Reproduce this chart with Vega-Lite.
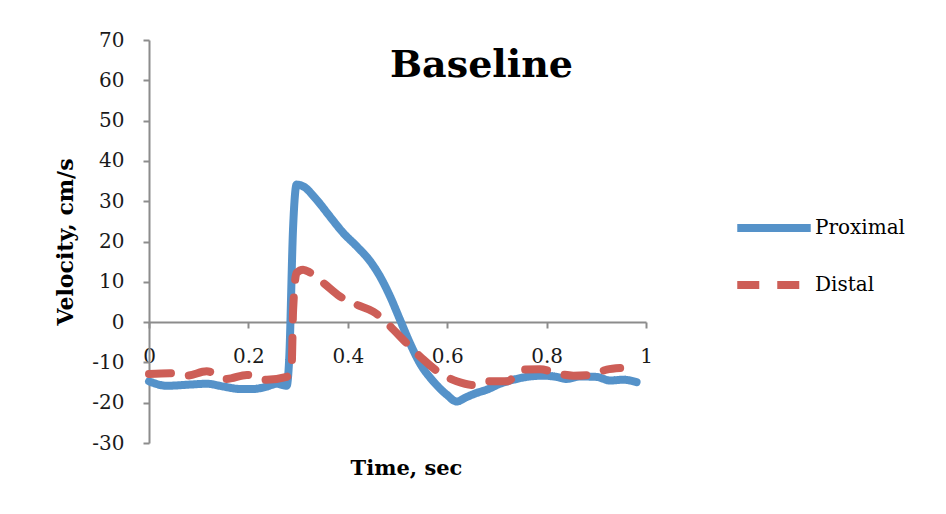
{
  "$schema": "https://vega.github.io/schema/vega-lite/v6.json",
  "width": 497,
  "height": 403,
  "autosize": {"type": "none"},
  "padding": {"left": 149, "top": 40, "right": 300, "bottom": 71},
  "background": "white",
  "config": {
    "view": {"stroke": null},
    "font": "DejaVu Serif"
  },
  "title": {
    "text": "Baseline",
    "font": "DejaVu Serif",
    "fontSize": 38,
    "fontWeight": "bold",
    "color": "#000000",
    "anchor": "middle",
    "frame": "group",
    "baseline": "alphabetic",
    "offset": -50,
    "dx": 84,
    "dy": 35
  },
  "data": {
    "values": [
      {"t": 0.0, "v": -14.7, "series": "Proximal"},
      {"t": 0.036, "v": -15.8, "series": "Proximal"},
      {"t": 0.083, "v": -15.5, "series": "Proximal"},
      {"t": 0.116, "v": -15.3, "series": "Proximal"},
      {"t": 0.15, "v": -16.0, "series": "Proximal"},
      {"t": 0.183, "v": -16.6, "series": "Proximal"},
      {"t": 0.21, "v": -16.6, "series": "Proximal"},
      {"t": 0.237, "v": -16.0, "series": "Proximal"},
      {"t": 0.257, "v": -15.3, "series": "Proximal"},
      {"t": 0.277, "v": -15.8, "series": "Proximal"},
      {"t": 0.282, "v": -9.3, "series": "Proximal"},
      {"t": 0.29, "v": 23.7, "series": "Proximal"},
      {"t": 0.297, "v": 34.1, "series": "Proximal"},
      {"t": 0.31, "v": 33.7, "series": "Proximal"},
      {"t": 0.337, "v": 30.4, "series": "Proximal"},
      {"t": 0.364, "v": 26.2, "series": "Proximal"},
      {"t": 0.391, "v": 22.1, "series": "Proximal"},
      {"t": 0.418, "v": 18.8, "series": "Proximal"},
      {"t": 0.445, "v": 15.1, "series": "Proximal"},
      {"t": 0.465, "v": 11.3, "series": "Proximal"},
      {"t": 0.485, "v": 6.4, "series": "Proximal"},
      {"t": 0.505, "v": 0.6, "series": "Proximal"},
      {"t": 0.525, "v": -5.2, "series": "Proximal"},
      {"t": 0.545, "v": -10.2, "series": "Proximal"},
      {"t": 0.572, "v": -14.7, "series": "Proximal"},
      {"t": 0.599, "v": -18.0, "series": "Proximal"},
      {"t": 0.619, "v": -19.7, "series": "Proximal"},
      {"t": 0.639, "v": -18.6, "series": "Proximal"},
      {"t": 0.659, "v": -17.6, "series": "Proximal"},
      {"t": 0.679, "v": -16.8, "series": "Proximal"},
      {"t": 0.706, "v": -15.3, "series": "Proximal"},
      {"t": 0.733, "v": -14.3, "series": "Proximal"},
      {"t": 0.76, "v": -13.6, "series": "Proximal"},
      {"t": 0.793, "v": -13.3, "series": "Proximal"},
      {"t": 0.82, "v": -13.6, "series": "Proximal"},
      {"t": 0.84, "v": -14.1, "series": "Proximal"},
      {"t": 0.867, "v": -13.5, "series": "Proximal"},
      {"t": 0.9, "v": -13.6, "series": "Proximal"},
      {"t": 0.928, "v": -14.5, "series": "Proximal"},
      {"t": 0.954, "v": -14.3, "series": "Proximal"},
      {"t": 0.981, "v": -14.9, "series": "Proximal"},
      {"t": 0.0, "v": -12.9, "series": "Distal"},
      {"t": 0.042, "v": -12.7, "series": "Distal"},
      {"t": 0.076, "v": -13.3, "series": "Distal"},
      {"t": 0.116, "v": -12.2, "series": "Distal"},
      {"t": 0.156, "v": -14.1, "series": "Distal"},
      {"t": 0.197, "v": -13.1, "series": "Distal"},
      {"t": 0.237, "v": -14.3, "series": "Distal"},
      {"t": 0.277, "v": -13.6, "series": "Distal"},
      {"t": 0.287, "v": -11.0, "series": "Distal"},
      {"t": 0.29, "v": 3.1, "series": "Distal"},
      {"t": 0.297, "v": 12.2, "series": "Distal"},
      {"t": 0.31, "v": 13.0, "series": "Distal"},
      {"t": 0.324, "v": 12.3, "series": "Distal"},
      {"t": 0.351, "v": 9.7, "series": "Distal"},
      {"t": 0.384, "v": 6.4, "series": "Distal"},
      {"t": 0.418, "v": 4.3, "series": "Distal"},
      {"t": 0.451, "v": 2.6, "series": "Distal"},
      {"t": 0.465, "v": 1.4, "series": "Distal"},
      {"t": 0.492, "v": -1.9, "series": "Distal"},
      {"t": 0.518, "v": -5.2, "series": "Distal"},
      {"t": 0.552, "v": -9.3, "series": "Distal"},
      {"t": 0.586, "v": -12.7, "series": "Distal"},
      {"t": 0.619, "v": -14.7, "series": "Distal"},
      {"t": 0.653, "v": -15.6, "series": "Distal"},
      {"t": 0.686, "v": -14.7, "series": "Distal"},
      {"t": 0.72, "v": -14.7, "series": "Distal"},
      {"t": 0.753, "v": -11.8, "series": "Distal"},
      {"t": 0.787, "v": -11.7, "series": "Distal"},
      {"t": 0.82, "v": -12.7, "series": "Distal"},
      {"t": 0.854, "v": -13.3, "series": "Distal"},
      {"t": 0.887, "v": -13.1, "series": "Distal"},
      {"t": 0.921, "v": -11.8, "series": "Distal"},
      {"t": 0.948, "v": -11.4, "series": "Distal"}
    ]
  },
  "mark": {"type": "line", "strokeWidth": 8, "strokeCap": "round", "strokeJoin": "round", "interpolate": "monotone"},
  "encoding": {
    "x": {
      "field": "t",
      "type": "quantitative",
      "scale": {"domain": [0, 1], "nice": false, "zero": false},
      "axis": {
        "title": "Time, sec",
        "values": [0, 0.2, 0.4, 0.6, 0.8, 1],
        "format": "~g",
        "grid": false,
        "offset": -121,
        "domainColor": "#8c8c8c",
        "domainWidth": 2,
        "tickColor": "#8c8c8c",
        "tickWidth": 2,
        "tickSize": 6,
        "labelFont": "DejaVu Serif",
        "labelFontSize": 20,
        "labelColor": "#1a1a1a",
        "labelPadding": 18,
        "labelFlush": false,
        "titleFont": "DejaVu Serif",
        "titleFontSize": 21,
        "titleFontWeight": "bold",
        "titleColor": "#000000",
        "titlePadding": 91,
        "titleX": 257
      }
    },
    "y": {
      "field": "v",
      "type": "quantitative",
      "scale": {"domain": [-30, 70], "nice": false},
      "axis": {
        "title": "Velocity, cm/s",
        "values": [-30, -20, -10, 0, 10, 20, 30, 40, 50, 60, 70],
        "labelExpr": "replace(datum.label, '\u2212', '-')",
        "grid": false,
        "domainColor": "#8c8c8c",
        "domainWidth": 2,
        "tickColor": "#8c8c8c",
        "tickWidth": 2,
        "tickSize": 6,
        "labelFont": "DejaVu Serif",
        "labelFontSize": 20,
        "labelColor": "#1a1a1a",
        "labelPadding": 19,
        "titleFont": "DejaVu Serif",
        "titleFontSize": 22,
        "titleFontWeight": "bold",
        "titleColor": "#000000",
        "titlePadding": 14
      }
    },
    "color": {
      "field": "series",
      "type": "nominal",
      "scale": {"domain": ["Proximal", "Distal"], "range": ["#5592C9", "#CD5E57"]},
      "legend": {
        "title": null,
        "orient": "none",
        "legendX": 584,
        "legendY": 147,
        "symbolType": "stroke",
        "symbolSize": 5400,
        "symbolStrokeWidth": 8,
        "labelFont": "DejaVu Serif",
        "labelFontSize": 20,
        "labelColor": "#000000",
        "labelOffset": 0,
        "rowPadding": -24
      }
    },
    "strokeDash": {
      "field": "series",
      "type": "nominal",
      "scale": {"domain": ["Proximal", "Distal"], "range": [[1, 0], [22, 18]]},
      "legend": null
    }
  }
}
